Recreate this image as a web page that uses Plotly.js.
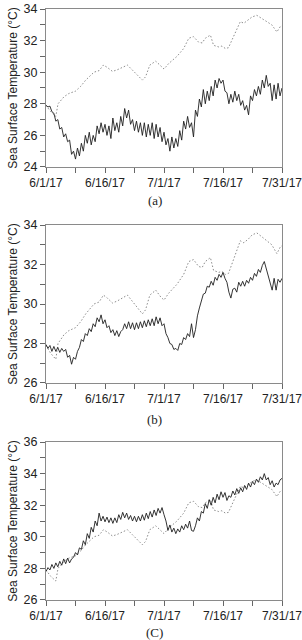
<!DOCTYPE html>
<html>
<head>
<meta charset="utf-8">
<script src="https://cdn.plot.ly/plotly-3.0.1.min.js"></script>
<style>html,body{margin:0;padding:0;background:#fff;}#chart{width:302px;height:640px;}</style>
</head>
<body>
<div id="chart"></div>
<script>
// X axis: days since 6/1/17
const dayTicks = [0, 7.5, 15, 22.5, 30, 37.5, 45, 52.5, 60];
const dayLabels = ['6/1/17', '', '6/16/17', '', '7/1/17', '', '7/16/17', '', '7/31/17'];

// Y ticks
const yTicksA = [24, 25, 26, 27, 28, 29, 30, 31, 32, 33, 34];
const yLabelsA = ['24', '', '26', '', '28', '', '30', '', '32', '', '34'];
const yTicksB = [26, 27, 28, 29, 30, 31, 32, 33, 34];
const yLabelsB = ['26', '', '28', '', '30', '', '32', '', '34'];
const yTicksC = [26, 27, 28, 29, 30, 31, 32, 33, 34, 35, 36];
const yLabelsC = ['26', '', '28', '', '30', '', '32', '', '34', '', '36'];

const captions = ['(a)', '(b)', '(C)'];
const yTitle = 'Sea Surface Temperature (\u00B0C)';

// Dotted reference series (same in all panels)
const refDays = [0, 1.2, 2.5, 3.05, 4.6, 5.8, 7.5, 8.8, 10.1, 11.4, 12.2, 13.5, 14.6, 15.6, 16.9, 18.1, 19.8, 20.7, 21.9, 23.2, 24.5, 25.3, 26.4, 27.9, 29.2, 30.0, 31.2, 33.3, 35.0, 36.3, 37.5, 38.8, 39.7, 40.5, 41.8, 42.6, 43.9, 44.7, 45.6, 46.4, 47.3, 48.5, 49.4, 50.3, 51.5, 52.4, 53.6, 54.9, 56.2, 57.4, 58.7, 59.6, 60];
const refTemp = [27.9, 27.5, 27.2, 28.0, 28.45, 28.65, 28.8, 29.1, 29.5, 29.8, 30.0, 30.1, 30.45, 30.3, 30.05, 30.15, 30.35, 30.45, 30.15, 29.8, 29.5, 29.7, 30.45, 30.7, 30.35, 30.2, 30.55, 31.0, 31.5, 32.15, 32.25, 31.9, 31.85, 32.15, 32.35, 31.7, 31.6, 31.65, 31.5, 31.55, 32.05, 32.7, 33.2, 33.1, 33.3, 33.5, 33.6, 33.4, 33.2, 33.0, 32.55, 32.9, 32.95];

// Solid series, one value every half day starting 6/1/17
const sstA = [
  27.9, 27.8, 27.85, 27.5, 27.4, 26.9, 27.0, 26.4, 26.5, 25.9,
  26.1, 25.6, 25.7, 24.8, 25.0, 24.5, 25.2, 24.7, 25.5, 25.0,
  26.0, 25.5, 26.2, 25.4, 26.0, 25.6, 26.6, 26.1, 26.8, 26.2,
  26.7, 26.0, 26.6, 25.8, 27.1, 26.3, 26.8, 26.2, 27.2, 26.6,
  27.7, 27.1, 27.6, 26.7, 27.0, 26.3, 26.9, 26.2, 26.8, 26.0,
  26.8, 25.9, 26.7, 26.0, 26.8, 25.8, 26.7, 25.9, 26.5, 25.6,
  26.2, 25.4, 25.8, 25.0, 25.9, 25.2, 25.8, 25.3, 26.3, 25.7,
  26.9, 26.4, 27.2, 26.5, 26.8, 25.9, 27.6, 27.2, 28.3, 27.8,
  28.9, 28.0, 28.8, 28.2, 29.1, 28.5, 29.5, 29.0, 29.6, 29.3,
  29.5, 28.8, 28.7, 28.0, 28.6, 28.1, 28.8, 28.2, 28.6, 27.9,
  28.2, 27.6, 27.9, 27.3, 28.5, 28.2, 28.9, 28.5, 29.1, 28.6,
  29.5, 29.0, 29.8, 29.1, 29.3, 28.2, 29.2, 28.3, 29.3, 28.5,
  29.0];
const sstB = [
  27.95, 27.75, 27.9, 27.6, 27.85, 27.6, 27.8, 27.55, 27.75, 27.6,
  27.7, 27.3, 27.4, 26.95, 27.3, 27.2, 27.6, 27.8, 28.2, 28.1,
  28.5, 28.4, 28.75, 28.6, 29.0, 28.85, 29.3, 29.1, 29.45, 29.0,
  29.2, 28.8, 28.9, 28.55, 28.7, 28.4, 28.65, 28.35, 28.6, 28.7,
  29.0, 28.75, 29.1, 28.75, 29.05, 28.7, 29.05, 28.75, 29.1, 28.8,
  29.15, 28.85, 29.2, 28.9, 29.25, 28.9, 29.35, 29.0, 29.3, 28.9,
  29.0, 28.5, 28.3, 28.0, 27.95, 27.7, 27.75, 27.65, 28.0, 27.95,
  28.3, 28.2, 28.5, 28.35, 29.0, 28.3, 28.7, 29.4, 29.8, 30.2,
  30.5, 30.55, 30.9, 30.85, 31.15, 30.95, 31.35, 31.2, 31.5, 31.35,
  31.6, 31.3, 31.1, 30.6, 30.3, 30.75, 30.8, 30.6, 31.1, 30.9,
  31.15, 30.9, 31.2, 31.05, 31.35, 31.2, 31.55, 31.4, 31.75, 31.6,
  31.95, 32.15, 31.8, 31.4, 31.1, 30.7, 31.3, 30.7, 31.25, 31.1,
  31.3];
const sstC = [
  27.8, 28.05, 27.9, 28.25, 28.0, 28.35, 28.1, 28.45, 28.2, 28.6,
  28.3, 28.65, 28.35, 28.6, 28.7, 29.0, 28.85, 29.3, 29.2, 29.75,
  29.5, 30.2, 29.9, 30.6, 30.3, 31.0, 30.7, 31.5, 31.0, 31.3,
  30.95, 31.25, 30.9, 31.2, 30.85, 31.2, 30.9, 31.4, 31.1, 31.55,
  31.2, 31.5, 31.1, 31.35, 31.0, 31.3, 30.95, 31.3, 31.0, 31.4,
  31.05, 31.5, 31.15, 31.6, 31.25, 31.7, 31.35, 31.8, 31.5, 31.85,
  31.4, 31.0, 30.4, 30.75, 30.3, 30.55, 30.2, 30.5, 30.3, 30.7,
  30.45, 30.8, 30.55, 31.0, 30.4, 30.35, 30.7, 31.2, 31.0, 31.6,
  31.5, 32.1, 31.8, 32.35, 32.0, 32.5, 32.15, 32.7, 32.35, 32.85,
  32.5, 32.8, 32.3, 32.6, 32.5, 32.9, 32.65, 33.05, 32.75, 33.1,
  32.85, 33.25, 33.0, 33.4, 33.15, 33.5, 33.3, 33.65, 33.45, 33.8,
  33.6, 34.0, 33.6, 33.75, 33.3, 33.55, 33.15, 33.4, 33.3, 33.6,
  33.7];

const solidLine = {color: '#1e1e1e', width: 0.9};
const dotLine = {color: '#8c8c8c', width: 1, dash: '1.5px,2px'};

const panels = [
  {sst: sstA, xa: 'x', ya: 'y'},
  {sst: sstB, xa: 'x2', ya: 'y2'},
  {sst: sstC, xa: 'x3', ya: 'y3'}
];
const traces = [];
panels.forEach(p => {
  traces.push({type: 'scatter', mode: 'lines', x: refDays, y: refTemp, xaxis: p.xa, yaxis: p.ya, line: dotLine, hoverinfo: 'skip'});
  traces.push({type: 'scatter', mode: 'lines', x0: 0, dx: 0.5, y: p.sst, xaxis: p.xa, yaxis: p.ya, line: solidLine, hoverinfo: 'skip'});
});

const tickFont = {family: 'Liberation Sans, Arial, sans-serif', size: 12, color: '#222'};
function xAxis(anchor) {
  return {
    anchor: anchor, domain: [0, 1], range: [0, 60],
    tickmode: 'array', tickvals: dayTicks, ticktext: dayLabels,
    ticks: 'outside', ticklen: 5, tickwidth: 1, tickcolor: '#666',
    showline: true, linecolor: '#8a8a8a', linewidth: 1, mirror: true,
    showgrid: false, zeroline: false, tickfont: tickFont,
    ticklabeloverflow: 'allow'
  };
}
function yAxis(anchor, domain, range, tv, tt) {
  return {
    anchor: anchor, domain: domain, range: range,
    tickmode: 'array', tickvals: tv, ticktext: tt,
    ticks: 'outside', ticklen: 5, tickwidth: 1, tickcolor: '#666',
    showline: true, linecolor: '#8a8a8a', linewidth: 1, mirror: true,
    showgrid: false, zeroline: false,
    tickfont: {family: 'Liberation Sans, Arial, sans-serif', size: 12.5, color: '#222'},
    title: {text: yTitle, font: {family: 'Liberation Sans, Arial, sans-serif', size: 12, color: '#222'}, standoff: 3}
  };
}

const capFont = {family: 'Liberation Serif, Times New Roman, serif', size: 13, color: '#222'};
const layout = {
  width: 302, height: 640,
  margin: {l: 46, r: 20, t: 9, b: 40},
  paper_bgcolor: '#fff', plot_bgcolor: '#fff',
  showlegend: false,
  xaxis: xAxis('y'),
  yaxis: yAxis('x', [0.7327, 1], [24, 34], yTicksA, yLabelsA),
  xaxis2: xAxis('y2'),
  yaxis2: yAxis('x2', [0.3672, 0.6345], [26, 34], yTicksB, yLabelsB),
  xaxis3: xAxis('y3'),
  yaxis3: yAxis('x3', [0, 0.2673], [26, 36], yTicksC, yLabelsC),
  annotations: [
    {text: captions[0], xref: 'paper', yref: 'paper', x: 0.46, y: 0.6768, xanchor: 'center', yanchor: 'middle', showarrow: false, font: capFont},
    {text: captions[1], xref: 'paper', yref: 'paper', x: 0.46, y: 0.3046, xanchor: 'center', yanchor: 'middle', showarrow: false, font: capFont},
    {text: captions[2], xref: 'paper', yref: 'paper', x: 0.46, y: -0.0558, xanchor: 'center', yanchor: 'middle', showarrow: false, font: capFont}
  ]
};

Plotly.newPlot('chart', traces, layout, {staticPlot: true, displayModeBar: false});
</script>
</body>
</html>
